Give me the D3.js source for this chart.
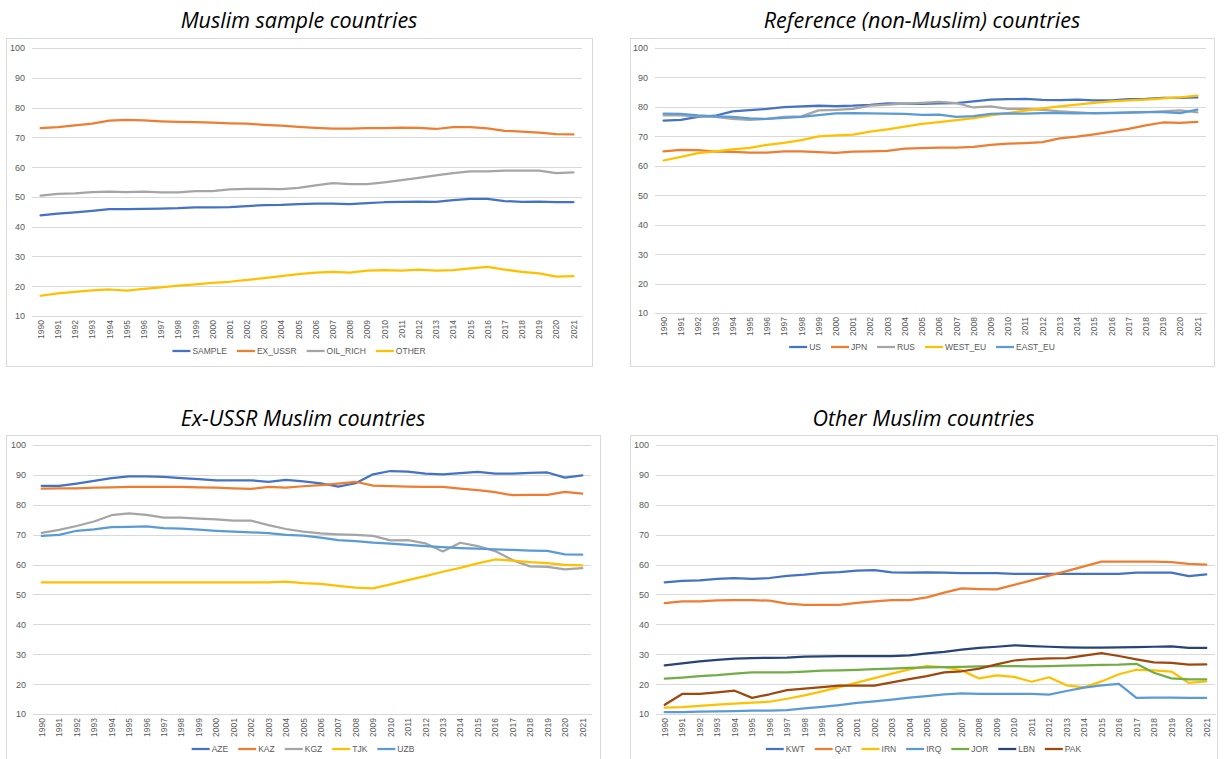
<!DOCTYPE html>
<html>
<head>
<meta charset="utf-8">
<script src="https://cdn.jsdelivr.net/npm/d3@7"></script>
<style>
  body { margin: 0; background: #fff; }
  text { font-family: "Liberation Sans", Arial, sans-serif; }
  .title { font-family: "Open Sans", "Liberation Sans", sans-serif; font-style: italic; font-size: 21.5px; fill: #000; }
  .tick-y, .tick-x, .legend-label { fill: #595959; }
</style>
</head>
<body>
<svg id="chart" width="1225" height="759"></svg>
<script>
const years = ['1990', '1991', '1992', '1993', '1994', '1995', '1996', '1997', '1998', '1999',
  '2000', '2001', '2002', '2003', '2004', '2005', '2006', '2007', '2008', '2009',
  '2010', '2011', '2012', '2013', '2014', '2015', '2016', '2017', '2018', '2019', '2020', '2021'];
const yTicks = [10, 20, 30, 40, 50, 60, 70, 80, 90, 100];

// Muslim sample countries
const sampleNames = ['SAMPLE', 'EX_USSR', 'OIL_RICH', 'OTHER'];
const sampleValues = [
  [43.8, 44.4, 44.8, 45.3, 45.9, 45.9, 46.0, 46.1, 46.2, 46.5, 46.5, 46.6, 46.9, 47.2, 47.3, 47.6,
    47.7, 47.7, 47.6, 47.9, 48.2, 48.3, 48.4, 48.3, 48.9, 49.3, 49.3, 48.6, 48.3, 48.4, 48.2, 48.2],
  [73.1, 73.4, 74.0, 74.6, 75.6, 75.9, 75.7, 75.4, 75.2, 75.1, 74.9, 74.7, 74.6, 74.2, 73.9, 73.5,
    73.2, 72.9, 72.9, 73.1, 73.1, 73.3, 73.2, 72.8, 73.4, 73.4, 73.0, 72.2, 71.9, 71.6, 71.1, 71.0],
  [50.4, 51.0, 51.2, 51.6, 51.8, 51.6, 51.8, 51.5, 51.5, 51.9, 51.9, 52.5, 52.7, 52.7, 52.6, 53.0,
    53.9, 54.6, 54.3, 54.3, 54.9, 55.6, 56.4, 57.2, 58.0, 58.6, 58.6, 58.8, 58.8, 58.8, 58.0, 58.2],
  [16.8, 17.6, 18.1, 18.6, 18.9, 18.5, 19.1, 19.6, 20.2, 20.6, 21.1, 21.5, 22.1, 22.7, 23.4, 24.1,
    24.6, 24.8, 24.6, 25.2, 25.4, 25.2, 25.6, 25.2, 25.4, 26.0, 26.5, 25.6, 24.8, 24.3, 23.2, 23.4]
];

// Reference (non-Muslim) countries
const refNames = ['US', 'JPN', 'RUS', 'WEST_EU', 'EAST_EU'];
const refValues = [
  [75.3, 75.6, 76.6, 77.0, 78.5, 78.9, 79.3, 79.9, 80.2, 80.4, 80.3, 80.4, 80.7, 81.2, 81.1, 81.0,
    81.2, 81.3, 81.9, 82.5, 82.6, 82.7, 82.4, 82.3, 82.5, 82.2, 82.2, 82.6, 82.7, 83.1, 83.1, 83.2],
  [64.9, 65.4, 65.3, 64.8, 64.7, 64.5, 64.5, 64.9, 64.9, 64.6, 64.4, 64.8, 64.9, 65.1, 65.8, 66.0,
    66.2, 66.2, 66.4, 67.1, 67.5, 67.7, 68.0, 69.3, 69.9, 70.7, 71.6, 72.5, 73.7, 74.7, 74.6, 74.9],
  [77.1, 77.1, 76.8, 76.6, 75.9, 75.6, 75.9, 76.6, 76.8, 78.8, 79.0, 79.3, 80.4, 80.8, 81.1, 81.4,
    81.7, 81.3, 79.8, 80.2, 79.3, 79.3, 79.0, 78.5, 78.1, 77.8, 77.9, 78.0, 78.2, 78.5, 78.8, 78.1],
  [61.8, 63.0, 64.3, 64.9, 65.6, 66.1, 67.1, 67.8, 68.7, 70.0, 70.3, 70.6, 71.6, 72.4, 73.3, 74.2,
    74.8, 75.5, 76.2, 77.1, 77.9, 78.7, 79.5, 80.2, 80.8, 81.4, 81.9, 82.2, 82.5, 82.9, 83.2, 83.8],
  [77.7, 77.6, 77.1, 76.8, 76.6, 76.1, 75.9, 76.3, 76.6, 77.2, 77.8, 77.9, 77.8, 77.7, 77.6, 77.3,
    77.4, 76.6, 76.9, 77.6, 77.8, 77.7, 77.9, 77.9, 77.8, 77.9, 78.0, 78.1, 78.2, 78.2, 77.9, 79.1]
];

// Ex-USSR Muslim countries
const ussrNames = ['AZE', 'KAZ', 'KGZ', 'TJK', 'UZB'];
const ussrValues = [
  [86.3, 86.3, 87.1, 88.0, 88.9, 89.5, 89.5, 89.3, 88.9, 88.6, 88.2, 88.2, 88.2, 87.7, 88.3, 87.8,
    87.2, 86.1, 87.2, 90.2, 91.3, 91.1, 90.4, 90.2, 90.6, 91.0, 90.4, 90.4, 90.7, 90.8, 89.1, 89.8],
  [85.4, 85.5, 85.5, 85.7, 85.8, 86.0, 86.0, 86.0, 86.0, 85.8, 85.7, 85.5, 85.3, 86.0, 85.7, 86.2,
    86.6, 87.1, 87.7, 86.4, 86.2, 86.1, 86.0, 86.0, 85.4, 84.9, 84.2, 83.2, 83.3, 83.3, 84.3, 83.7],
  [70.6, 71.6, 72.9, 74.4, 76.5, 77.1, 76.6, 75.7, 75.7, 75.4, 75.1, 74.7, 74.7, 73.2, 71.9, 71.0,
    70.4, 70.1, 69.9, 69.6, 68.1, 68.2, 67.1, 64.4, 67.3, 66.2, 64.5, 61.5, 59.4, 59.2, 58.4, 58.8],
  [54.0, 54.0, 54.0, 54.0, 54.0, 54.0, 54.0, 54.0, 54.0, 54.0, 54.0, 54.0, 54.0, 54.0, 54.3, 53.8,
    53.5, 52.9, 52.3, 52.0, 53.4, 54.8, 56.1, 57.6, 58.9, 60.4, 61.7, 61.3, 60.8, 60.5, 59.9, 59.7],
  [69.6, 69.9, 71.3, 71.8, 72.5, 72.6, 72.8, 72.2, 72.0, 71.7, 71.3, 71.0, 70.8, 70.5, 69.9, 69.7,
    69.0, 68.2, 67.8, 67.3, 67.0, 66.6, 66.2, 65.8, 65.5, 65.3, 65.1, 64.9, 64.7, 64.6, 63.4, 63.3]
];

// Other Muslim countries
const otherNames = ['KWT', 'QAT', 'IRN', 'IRQ', 'JOR', 'LBN', 'PAK'];
const otherValues = [
  [54.0, 54.5, 54.7, 55.2, 55.5, 55.2, 55.5, 56.2, 56.6, 57.2, 57.5, 58.0, 58.1, 57.4, 57.3, 57.4,
    57.3, 57.1, 57.1, 57.1, 56.9, 56.9, 56.9, 56.9, 56.9, 56.9, 56.9, 57.3, 57.3, 57.3, 56.1, 56.7],
  [47.1, 47.7, 47.7, 48.0, 48.1, 48.1, 47.9, 46.9, 46.5, 46.5, 46.5, 47.2, 47.7, 48.1, 48.1, 49.0,
    50.6, 52.0, 51.8, 51.7, 53.2, 54.7, 56.3, 57.8, 59.4, 61.0, 61.0, 61.0, 61.0, 60.8, 60.2, 60.0],
  [12.1, 12.3, 12.7, 13.1, 13.5, 13.8, 14.1, 15.1, 16.2, 17.6, 19.0, 20.5, 22.0, 23.5, 24.9, 26.0,
    25.7, 24.6, 21.9, 22.9, 22.4, 20.8, 22.3, 19.6, 18.9, 20.9, 23.3, 24.8, 24.6, 24.2, 20.4, 20.9],
  [10.6, 10.6, 10.8, 10.9, 11.0, 11.1, 11.1, 11.3, 11.9, 12.4, 13.0, 13.7, 14.2, 14.8, 15.5, 16.0,
    16.6, 16.9, 16.7, 16.7, 16.7, 16.7, 16.5, 17.7, 18.8, 19.6, 20.1, 15.4, 15.5, 15.5, 15.4, 15.4],
  [21.8, 22.2, 22.7, 23.0, 23.5, 23.9, 23.9, 23.9, 24.2, 24.5, 24.6, 24.8, 25.0, 25.2, 25.4, 25.6,
    25.7, 25.8, 25.9, 26.0, 26.0, 25.9, 26.0, 26.2, 26.3, 26.4, 26.5, 26.8, 23.8, 21.9, 21.6, 21.6],
  [26.3, 26.9, 27.6, 28.1, 28.5, 28.7, 28.8, 28.9, 29.2, 29.3, 29.4, 29.4, 29.4, 29.4, 29.6, 30.3,
    30.8, 31.5, 32.1, 32.5, 33.0, 32.7, 32.5, 32.3, 32.2, 32.2, 32.3, 32.4, 32.5, 32.6, 32.1, 32.1],
  [13.1, 16.7, 16.7, 17.2, 17.8, 15.4, 16.6, 18.0, 18.5, 19.0, 19.5, 19.5, 19.5, 20.6, 21.7, 22.7,
    23.9, 24.3, 25.2, 26.6, 27.9, 28.4, 28.6, 28.7, 29.5, 30.4, 29.4, 28.3, 27.3, 27.1, 26.5, 26.6]
];

const blue = '#4472C4', orange = '#ED7D31', gray = '#A5A5A5', gold = '#FFC000',
  lightBlue = '#5B9BD5', green = '#70AD47', navy = '#264478', brown = '#9E480E';

const panels = [
  {
    title: 'Muslim sample countries', names: sampleNames, values: sampleValues,
    colors: [blue, orange, gray, gold],
    box: [6, 38, 592, 366], plot: [32, 582, 48, 316], titleY: 28, legendY: 351
  },
  {
    title: 'Reference (non-Muslim) countries', names: refNames, values: refValues,
    colors: [blue, orange, gray, gold, lightBlue],
    box: [630, 38, 1214, 366], plot: [655, 1206, 48, 313], titleY: 28, legendY: 347
  },
  {
    title: 'Ex-USSR Muslim countries', names: ussrNames, values: ussrValues,
    colors: [blue, orange, gray, gold, lightBlue],
    box: [6, 435, 600, 766], plot: [33, 591, 445, 714], titleY: 426, legendY: 749
  },
  {
    title: 'Other Muslim countries', names: otherNames, values: otherValues,
    colors: [blue, orange, gold, lightBlue, green, navy, brown],
    box: [630, 435, 1217, 766], plot: [656, 1215, 445, 714], titleY: 426, legendY: 749
  }
];

const svg = d3.select('#chart');

panels.forEach(p => drawPanel(p));

function drawPanel(p) {
  const [bx0, by0, bx1, by1] = p.box;
  const [px0, px1, py0, py1] = p.plot;
  const g = svg.append('g');

  g.append('rect')
    .attr('x', bx0 + 0.5).attr('y', by0 + 0.5)
    .attr('width', bx1 - bx0).attr('height', by1 - by0)
    .attr('fill', '#fff').attr('stroke', '#d9d9d9');

  g.append('text')
    .attr('class', 'title')
    .attr('x', (bx0 + bx1) / 2).attr('y', p.titleY)
    .attr('text-anchor', 'middle')
    .text(p.title);

  const x = d3.scalePoint().domain(years).range([px0, px1]).padding(0.5);
  const y = d3.scaleLinear().domain([10, 100]).range([py1, py0]);

  // gridlines + y labels
  const yAxis = d3.axisLeft(y).tickValues(yTicks).tickSize(-(px1 - px0)).tickPadding(7);
  const ya = g.append('g').attr('transform', `translate(${px0},0)`).call(yAxis);
  ya.select('.domain').remove();
  ya.selectAll('line').attr('stroke', '#d9d9d9').attr('shape-rendering', 'crispEdges');
  ya.selectAll('text').attr('class', 'tick-y').attr('font-size', 9)
    .style('font-family', '"Liberation Sans", Arial, sans-serif');

  // year labels
  const xAxis = d3.axisBottom(x).tickSize(0).tickPadding(0);
  const xa = g.append('g').attr('transform', `translate(0,${py1})`).call(xAxis);
  xa.select('.domain').attr('stroke', '#d9d9d9').attr('shape-rendering', 'crispEdges');
  xa.selectAll('text')
    .attr('class', 'tick-x')
    .attr('font-size', 8.5)
    .style('font-family', '"Liberation Sans", Arial, sans-serif')
    .attr('text-anchor', 'end')
    .attr('dy', '0.32em')
    .attr('transform', 'translate(0,4) rotate(-90)')
    .attr('x', 0).attr('y', 0);

  // series lines
  const line = d3.line()
    .x((d, i) => x(years[i]))
    .y(d => y(d));

  g.selectAll('.series')
    .data(p.values)
    .enter()
    .append('path')
    .attr('class', 'series')
    .attr('d', d => line(d))
    .attr('fill', 'none')
    .attr('stroke', (d, i) => p.colors[i])
    .attr('stroke-width', 2.25)
    .attr('stroke-linejoin', 'round')
    .attr('stroke-linecap', 'round');

  // legend, centred on the chart box
  const lineLen = 18, textGap = 2, itemGap = 10;
  const lg = g.append('g');
  const items = lg.selectAll('g')
    .data(p.names)
    .enter()
    .append('g');
  items.append('line')
    .attr('x1', 0).attr('x2', lineLen)
    .attr('y1', 0).attr('y2', 0)
    .attr('stroke', (d, i) => p.colors[i])
    .attr('stroke-width', 2.25);
  items.append('text')
    .attr('class', 'legend-label')
    .attr('x', lineLen + textGap)
    .attr('dy', '0.35em')
    .attr('font-size', 8.5)
    .text(d => d);

  let offset = 0;
  items.each(function () {
    const w = d3.select(this).select('text').node().getComputedTextLength();
    d3.select(this).attr('transform', `translate(${offset},0)`);
    offset += lineLen + textGap + w + itemGap;
  });
  const total = offset - itemGap;
  lg.attr('transform', `translate(${(bx0 + bx1) / 2 - total / 2},${p.legendY})`);
}
</script>
</body>
</html>
